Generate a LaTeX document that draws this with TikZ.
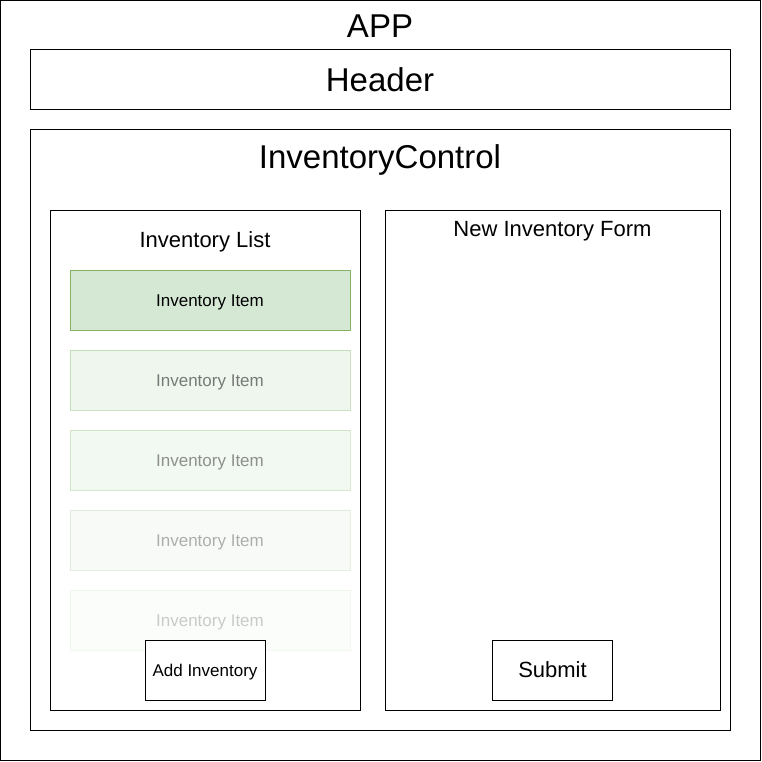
\documentclass[tikz,border=0pt]{standalone}
\usepackage{fontspec}
\setmainfont{Liberation Sans}

\definecolor{itemfill}{HTML}{D5E8D4}
\definecolor{itemline}{HTML}{82B366}

\tikzset{
  label/.style={inner sep=0pt, text depth=0pt},
  box/.style={label, draw, rectangle, line width=1pt},
  big/.style={font=\fontsize{33}{40}\selectfont, text height=23.6pt},
  mid/.style={font=\fontsize{22}{26}\selectfont, text height=15.8pt},
  small/.style={font=\fontsize{17}{20}\selectfont, text height=12.2pt},
  title/.style={label, big},
  subtitle/.style={label, mid},
  item/.style={box, small, draw=itemline, fill=itemfill, minimum width=280pt, minimum height=60pt},
  button/.style={box, fill=white, minimum width=120pt, minimum height=60pt}
}

\begin{document}
\begin{tikzpicture}[x=1pt, y=-1pt]
    \useasboundingbox (0, 0) rectangle (762, 762);

    \node[box, minimum width=760pt, minimum height=760pt] (app) at (380.5, 380.5) {};
    \node[title] (apptitle) at (380, 26) {APP};

    \node[box, big, minimum width=700pt, minimum height=60pt] (header) at (380, 80) {Header};

    \node[box, minimum width=700pt, minimum height=600pt] (control) at (380, 430) {};
    \node[title] (controltitle) at (380, 157) {InventoryControl};

    \node[box, minimum width=310pt, minimum height=500pt] (list) at (205, 460) {};
    \node[subtitle] (listtitle) at (205, 240) {Inventory List};

    \node[box, minimum width=335pt, minimum height=500pt] (form) at (552.5, 460) {};
    \node[subtitle] (formtitle) at (552.5, 229) {New Inventory Form};

    \node[item] (item1) at (210, 300) {Inventory Item};
    \node[item, opacity=0.4, text opacity=0.5] (item2) at (210, 380) {Inventory Item};
    \node[item, opacity=0.3, text opacity=0.42] (item3) at (210, 460) {Inventory Item};
    \node[item, opacity=0.2, text opacity=0.3] (item4) at (210, 540) {Inventory Item};
    \node[item, opacity=0.1, text opacity=0.2] (item5) at (210, 620) {Inventory Item};

    \node[button, small] (add) at (205, 670) {Add Inventory};
    \node[button, mid] (submit) at (552.5, 670) {Submit};
\end{tikzpicture}
\end{document}
